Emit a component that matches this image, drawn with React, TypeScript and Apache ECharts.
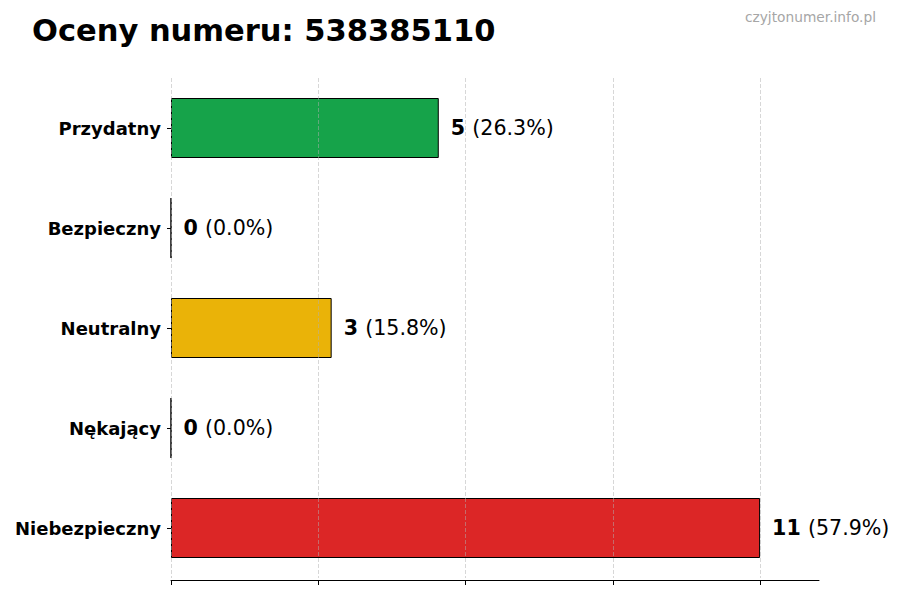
import React, { useEffect, useRef } from 'react';
import * as echarts from 'echarts';

const categories = ['Przydatny', 'Bezpieczny', 'Neutralny', 'Nękający', 'Niebezpieczny'];
const counts = [5, 0, 3, 0, 11];
const barColors = ['#16a34a', '#16a34a', '#eab308', '#dc2626', '#dc2626'];
const gridTicks = [0, 2.75, 5.5, 8.25, 11];

const FONT = '"DejaVu Sans", sans-serif';

export default function App() {
  const chartRef = useRef<HTMLDivElement>(null);

  useEffect(() => {
    if (!chartRef.current) return;
    const chart = echarts.init(chartRef.current, null, { renderer: 'svg' });
    const total = counts.reduce((a, b) => a + b, 0);

    const option = {
      animation: false,
      backgroundColor: '#ffffff',
      textStyle: { fontFamily: FONT },
      title: [
        {
          text: 'Oceny numeru: 538385110',
          left: 27,
          top: 10,
          textStyle: { fontSize: 30.5, fontWeight: 'bold', color: '#000', fontFamily: FONT },
        },
        {
          text: 'czyjtonumer.info.pl',
          right: 19,
          top: 5,
          textStyle: { fontSize: 13.75, fontWeight: 'normal', color: '#a6a6a6', fontFamily: FONT },
        },
      ],
      grid: { left: 171, right: 81, top: 78, height: 500 },
      xAxis: {
        type: 'value',
        min: 0,
        max: 12.1,
        offset: 2,
        z: 3,
        axisLine: { show: true, lineStyle: { color: '#000', width: 1 } },
        axisTick: { show: true, length: 5, lineStyle: { color: '#000' }, customValues: gridTicks },
        axisLabel: { show: false, customValues: gridTicks },
        splitLine: { show: true, lineStyle: { color: 'rgba(176,176,176,0.5)', type: [4, 2], width: 1 } },
      },
      yAxis: {
        type: 'category',
        data: categories,
        inverse: true,
        axisLine: { show: false },
        axisTick: { show: true, alignWithLabel: true, length: 4, lineStyle: { color: '#000' } },
        axisLabel: { color: '#000', fontWeight: 'bold', fontSize: 18, margin: 10, fontFamily: FONT },
        splitLine: { show: false },
      },
      series: [
        {
          type: 'bar',
          data: counts.map((v, i) => ({ value: v, itemStyle: { color: barColors[i] } })),
          barWidth: 60,
          itemStyle: { borderColor: '#000', borderWidth: 1 },
          label: {
            show: true,
            position: 'right',
            distance: 12,
            formatter: (p: any) => `{b|${p.value} }{n|(${((p.value / total) * 100).toFixed(1)}%)}`,
            rich: {
              b: { fontSize: 20.6, fontWeight: 'bold', color: '#000', fontFamily: FONT },
              n: { fontSize: 20.6, color: '#000', fontFamily: FONT },
            },
          },
        },
      ],
    };

    chart.setOption(option);
    return () => chart.dispose();
  }, []);

  return <div ref={chartRef} style={{ width: 900, height: 600, margin: -8 }} />;
}
